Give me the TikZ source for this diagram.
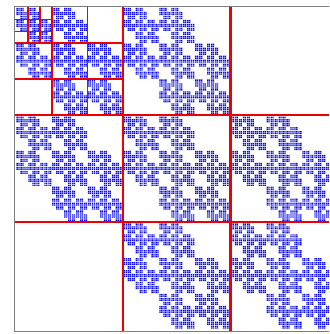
\documentclass[tikz,border=0pt]{standalone}
\definecolor{spyblue}{RGB}{10,10,235}
\definecolor{hred}{RGB}{238,0,0}
\definecolor{framegray}{RGB}{125,125,125}
\tikzset{
  cl/.pic={\fill[spyblue] (0.1,0.1) rectangle (0.43,0.43) (0.56,0.1) rectangle (0.89,0.43)
                       (0.1,0.56) rectangle (0.43,0.89) (0.56,0.56) rectangle (0.89,0.89);},
  lvlone/.style={hred, line width=2.4pt},
  lvltwo/.style={hred, line width=1.8pt},
  lvlthree/.style={hred, line width=1.3pt},
  frameline/.style={framegray, line width=1pt}
}
\begin{document}
\begin{tikzpicture}[x=1pt,y=-1pt]
\useasboundingbox (0,0) rectangle (329,334);
\clip (0,0) rectangle (329,334);
\fill[white] (0,0) rectangle (329,334);
\begin{scope}[shift={(16.1,7.6)},x=3.97pt,y=-3.97pt]
  % sparsity pattern: Kronecker power of the 3x3 tridiagonal pattern
  \foreach \ra/\ca in {0/0,0/1,1/0,1/1,1/2,2/1,2/2}{
  \foreach \rb/\cb in {0/0,0/1,1/0,1/1,1/2,2/1,2/2}{
  \foreach \rc/\cc in {0/0,0/1,1/0,1/1,1/2,2/1,2/2}{
  \foreach \rd/\cd in {0/0,0/1,1/0,1/1,1/2,2/1,2/2}{
    \edef\ci{\the\numexpr 27*\ca+9*\cb+3*\cc+\cd\relax}%
    \edef\ri{\the\numexpr 27*\ra+9*\rb+3*\rc+\rd\relax}%
    \pic at (\ci,\ri) {cl};
  }}}}
  % hierarchical partition
  \draw[lvlthree] (3,-0.4) -- (3,9) (6,-0.4) -- (6,9)
                  (-0.4,3) -- (9,3) (-0.4,6) -- (9,6);
  \draw[lvltwo] (9,-0.4) -- (9,27) (18,-0.4) -- (18,27)
                (-0.4,9) -- (27,9) (-0.4,18) -- (27,18);
  \draw[lvlone] (27,-0.4) -- (27,81.7) (54,-0.4) -- (54,81.7)
                (-0.4,27) -- (84,27) (-0.4,54) -- (84,54);
  % axes frame
  \draw[frameline] (84,-0.4) -- (-0.4,-0.4) -- (-0.4,81.7) -- (84,81.7);
\end{scope}
\end{tikzpicture}
\end{document}
